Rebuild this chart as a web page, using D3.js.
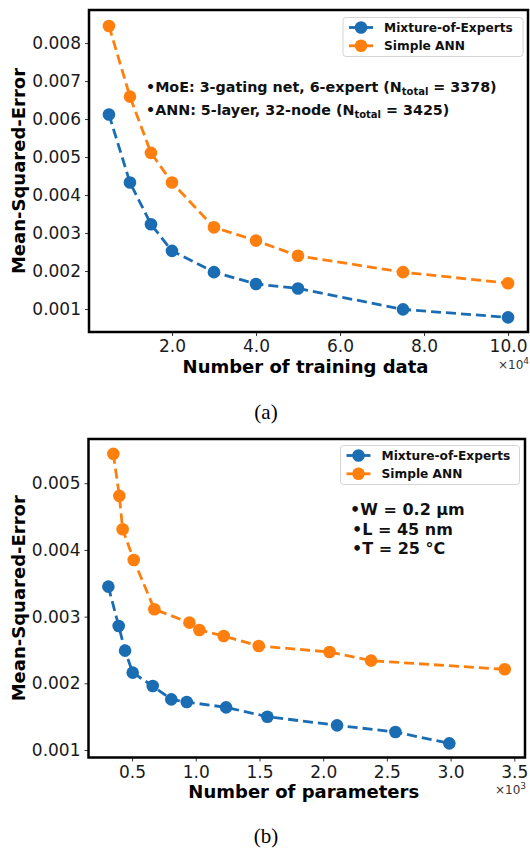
<!DOCTYPE html>
<html>
<head>
<meta charset="utf-8">
<script src="https://d3js.org/d3.v7.min.js"></script>
<style>
  body { margin: 0; background: #fff; }
  text { font-family: "DejaVu Sans", sans-serif; }
  text.caption { font-family: "Liberation Serif", "Times New Roman", serif; }
</style>
</head>
<body>
<script>
// (a) error vs number of training data (x in units of 1e4)
var trainSize = [0.5, 1, 1.5, 2, 3, 4, 5, 7.5, 10];
var moeTrainErr = [0.00612, 0.00433, 0.00323, 0.00253, 0.00197, 0.00166, 0.00154, 0.00099, 0.00078];
var annTrainErr = [0.00845, 0.00659, 0.00511, 0.00433, 0.00315, 0.00280, 0.00240, 0.00197, 0.00168];

// (b) error vs number of parameters (x in units of 1e3)
var moeParams = [0.314, 0.395, 0.445, 0.505, 0.662, 0.808, 0.929, 1.238, 1.562, 2.109, 2.567, 2.99];
var moeParamErr = [0.00345, 0.00286, 0.00249, 0.00216, 0.00196, 0.00176, 0.00172, 0.00164, 0.00150, 0.00137, 0.00127, 0.00110];
var annParams = [0.353, 0.40, 0.426, 0.513, 0.675, 0.95, 1.028, 1.219, 1.494, 2.05, 2.376, 3.425];
var annParamErr = [0.00544, 0.00481, 0.00431, 0.00385, 0.00311, 0.00291, 0.00280, 0.00271, 0.00256, 0.00247, 0.00234, 0.00221];

var seriesNames = ["Mixture-of-Experts", "Simple ANN"];
var colors = ["#1a6cb3", "#ff7f0e"];

var xTicksA = [2, 4, 6, 8, 10];
var yTicksA = [0.001, 0.002, 0.003, 0.004, 0.005, 0.006, 0.007, 0.008];
var xTicksB = [0.5, 1.0, 1.5, 2.0, 2.5, 3.0, 3.5];
var yTicksB = [0.001, 0.002, 0.003, 0.004, 0.005];

var svg = d3.select("body").append("svg")
  .attr("width", 530)
  .attr("height", 852);

function drawPanel(o) {
  var g = svg.append("g");
  var x = d3.scaleLinear().domain(o.xDom).range([o.left, o.right]);
  var y = d3.scaleLinear().domain(o.yDom).range([o.bottom, o.top]);

  // axes with ticks outside
  var xa = g.append("g")
    .attr("transform", "translate(0," + o.bottom + ")")
    .call(d3.axisBottom(x).tickValues(o.xTicks).tickFormat(d3.format(".1f")).tickSize(4).tickPadding(4));
  var ya = g.append("g")
    .attr("transform", "translate(" + o.left + ",0)")
    .call(d3.axisLeft(y).tickValues(o.yTicks).tickFormat(d3.format(".3f")).tickSize(4).tickPadding(4));
  [xa, ya].forEach(function(a) {
    a.select(".domain").remove();
    a.selectAll("text").attr("font-size", 17).attr("fill", "#1a1a1a")
      .attr("font-family", "DejaVu Sans");
    a.selectAll("line").attr("stroke", "#222").attr("stroke-width", 0.9);
  });

  // series
  o.series.forEach(function(s, i) {
    var pts = s.xs.map(function(v, k) { return [v, s.ys[k]]; });
    var line = d3.line().x(function(d) { return x(d[0]); }).y(function(d) { return y(d[1]); });
    g.append("path")
      .attr("d", line(pts))
      .attr("fill", "none")
      .attr("stroke", colors[i])
      .attr("stroke-width", 2.8)
      .attr("stroke-dasharray", "10,5");
    g.selectAll(null).data(pts).enter().append("circle")
      .attr("cx", function(d) { return x(d[0]); })
      .attr("cy", function(d) { return y(d[1]); })
      .attr("r", 6.3)
      .attr("fill", colors[i]);
  });

  // frame
  g.append("rect")
    .attr("x", o.left).attr("y", o.top)
    .attr("width", o.right - o.left).attr("height", o.bottom - o.top)
    .attr("fill", "none").attr("stroke", "#000").attr("stroke-width", 2.5);

  // legend
  var L = o.legend;
  g.append("rect")
    .attr("x", L.x).attr("y", L.y).attr("width", L.w).attr("height", L.h)
    .attr("rx", 3).attr("fill", "#fff").attr("fill-opacity", 0.85)
    .attr("stroke", "#d4d4d4").attr("stroke-width", 1);
  seriesNames.forEach(function(name, i) {
    var cy = L.y + 10 + i * 18.3;
    g.append("line")
      .attr("x1", L.x + 6).attr("x2", L.x + 30)
      .attr("y1", cy).attr("y2", cy)
      .attr("stroke", colors[i]).attr("stroke-width", 2.8);
    g.append("circle").attr("cx", L.x + 18).attr("cy", cy).attr("r", 6.3).attr("fill", colors[i]);
    g.append("text")
      .attr("x", L.x + 41).attr("y", cy + 4.5)
      .attr("font-size", 12.2).attr("font-weight", "bold").attr("fill", "#111")
      .text(name);
  });

  // x label and y label
  g.append("text")
    .attr("x", (o.left + o.right) / 2 - 3).attr("y", o.xLabelY)
    .attr("text-anchor", "middle").attr("font-size", 18).attr("font-weight", "bold")
    .text(o.xLabel);
  g.append("text")
    .attr("transform", "translate(25," + ((o.top + o.bottom) / 2) + ") rotate(-90)")
    .attr("text-anchor", "middle").attr("font-size", 18).attr("font-weight", "bold")
    .text("Mean-Squared-Error");

  // offset text (x10^n)
  var off = g.append("text")
    .attr("x", o.right + 1).attr("y", o.offY)
    .attr("text-anchor", "end").attr("font-size", 12).attr("fill", "#333");
  off.append("tspan").text("\u00d710");
  off.append("tspan").attr("dy", -5).attr("font-size", 9).text(o.offExp);

  // annotations
  o.notes.forEach(function(n) {
    var t = g.append("text")
      .attr("x", n.x).attr("y", n.y)
      .attr("font-size", n.size).attr("font-weight", "bold").attr("fill", "#111");
    n.parts.forEach(function(p) {
      var ts = t.append("tspan").text(p.t);
      if (p.sub) ts.attr("font-size", n.size * 0.7).attr("dy", 3);
      if (p.up) ts.attr("dy", -3);
    });
  });

  // caption
  svg.append("text")
    .attr("class", "caption")
    .attr("x", 266).attr("y", o.capY)
    .attr("text-anchor", "middle")
    .attr("font-size", 21)
    .text(o.caption);
}

drawPanel({
  left: 89, right: 528, top: 10, bottom: 332,
  xDom: [0.025, 10.475], yDom: [0.000395, 0.00887],
  xTicks: xTicksA, yTicks: yTicksA,
  series: [{ xs: trainSize, ys: moeTrainErr }, { xs: trainSize, ys: annTrainErr }],
  legend: { x: 343, y: 17.5, w: 180, h: 39 },
  xLabel: "Number of training data", xLabelY: 373,
  offExp: "4", offY: 369,
  notes: [
    { x: 146, y: 92, size: 14.3, parts: [{ t: "\u2022MoE: 3-gating net, 6-expert (N" }, { t: "total", sub: true }, { t: " = 3378)", up: true }] },
    { x: 146, y: 115, size: 14.3, parts: [{ t: "\u2022ANN: 5-layer, 32-node (N" }, { t: "total", sub: true }, { t: " = 3425)", up: true }] }
  ],
  caption: "(a)", capY: 419
});

drawPanel({
  left: 88.5, right: 525, top: 439, bottom: 757.5,
  xDom: [0.158, 3.584], yDom: [0.000888, 0.005663],
  xTicks: xTicksB, yTicks: yTicksB,
  series: [{ xs: moeParams, ys: moeParamErr }, { xs: annParams, ys: annParamErr }],
  legend: { x: 340.5, y: 445.5, w: 179, h: 39 },
  xLabel: "Number of parameters", xLabelY: 798,
  offExp: "3", offY: 794,
  notes: [
    { x: 350, y: 515, size: 16, parts: [{ t: "\u2022W = 0.2 \u00b5m" }] },
    { x: 352, y: 535, size: 16, parts: [{ t: "\u2022L = 45 nm" }] },
    { x: 352, y: 554, size: 16, parts: [{ t: "\u2022T = 25 \u00b0C" }] }
  ],
  caption: "(b)", capY: 843
});
</script>
</body>
</html>
